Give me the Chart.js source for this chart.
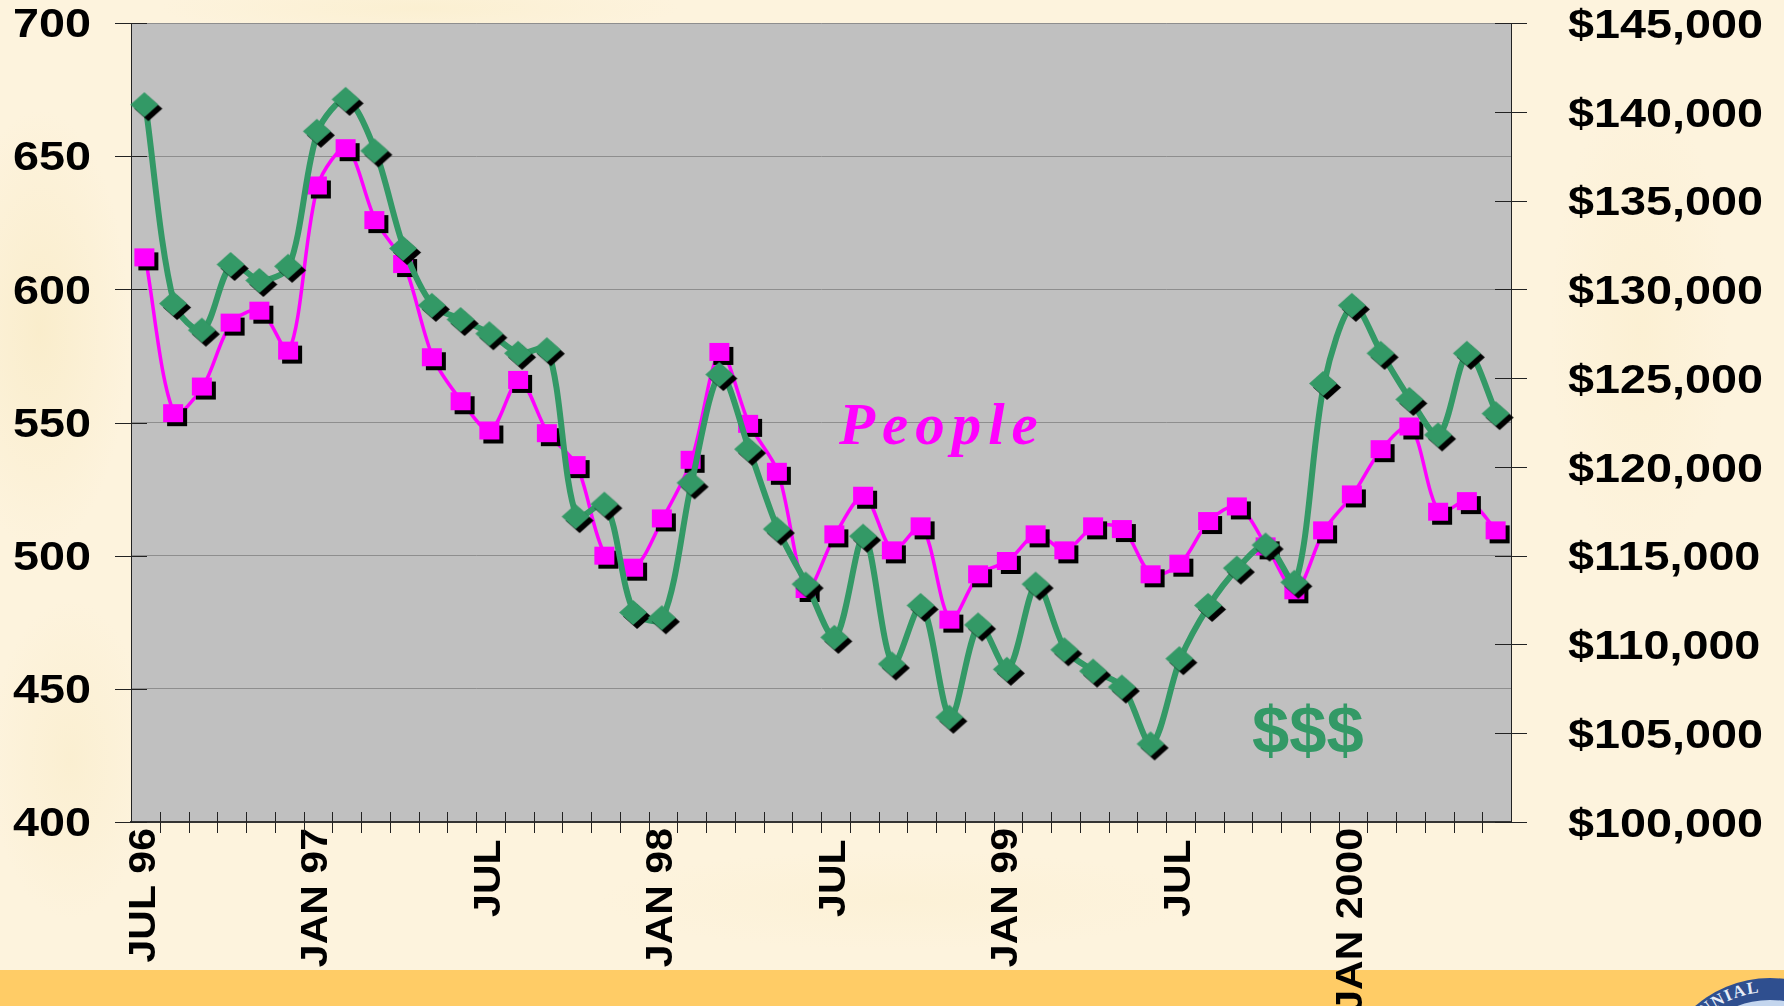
<!DOCTYPE html>
<html>
<head>
<meta charset="utf-8">
<script src="https://cdn.jsdelivr.net/npm/chart.js@4"></script>
<style>
html,body{margin:0;padding:0;width:1784px;height:1006px;overflow:hidden}
#bg{position:absolute;left:0;top:0;width:1784px;height:1006px;background:
radial-gradient(ellipse 90px 220px at 40px 330px,rgba(247,232,190,.55),rgba(247,232,190,0)),
radial-gradient(ellipse 80px 160px at 70px 760px,rgba(248,234,195,.45),rgba(248,234,195,0)),
radial-gradient(ellipse 260px 30px at 420px 8px,rgba(249,236,198,.5),rgba(249,236,198,0)),
radial-gradient(ellipse 90px 240px at 1640px 330px,rgba(250,236,200,.45),rgba(250,236,200,0)),
radial-gradient(ellipse 300px 50px at 900px 900px,rgba(250,238,205,.4),rgba(250,238,205,0)),
#FDF3DD}
#band{position:absolute;left:0;top:970px;width:1784px;height:36px;background:#FFCC66}
#seal{position:absolute;left:0;top:0}
canvas{position:absolute;left:0;top:0}
.note{position:absolute;white-space:nowrap;line-height:1}
#people{left:839px;top:390px;font:italic bold 59px "Liberation Serif",serif;letter-spacing:7px;color:#FF00FF}
#dollars{left:1252px;top:691px;font:bold 67px "Liberation Sans",sans-serif;color:#339966}
</style>
</head>
<body>
<div id="bg"></div>
<div id="band"></div>
<svg id="seal" width="1784" height="1006">
  <defs><path id="ringPath" d="M 1670 1092 A 100 100 0 0 1 1870 1092"/></defs>
  <circle cx="1770" cy="1092" r="114" fill="#2F4F8F"/>
  <circle cx="1770" cy="1092" r="92" fill="#C4D6EE"/>
  <text font-family="Liberation Serif" font-weight="bold" font-size="17" fill="#E8EEF8" letter-spacing="1.5"><textPath href="#ringPath" startOffset="6%">CENTENNIAL</textPath></text>
</svg>
<canvas id="c" width="1784" height="1006"></canvas>
<div class="note" id="people">People</div>
<div class="note" id="dollars">$$$</div>
<script>
const categories = ["JUL 96","","","","","","JAN 97","","","","","","JUL ","","","","","","JAN 98","","","","","","JUL ","","","","","","JAN 99","","","","","","JUL ","","","","","","JAN 2000","","","","",""];
const peopleValues = [612,553.5,563.5,587.5,592,577,639,653,626,609.5,574.5,558,547,566,546,534,500,495.5,514,536,576.5,549.5,531.5,487.5,508,522.5,502,511,476,493,498,508,502,511,510,493,497,513,518.5,503.5,487,509.5,523,540,548.5,516.5,520.5,509.5];
const dollarValues = [140400,129200,127700,131400,130500,131300,138900,140700,137800,132300,129100,128300,127500,126400,126600,117200,117900,111800,111500,119100,125200,121000,116500,113400,110400,116100,108900,112200,105900,111100,108600,113400,109700,108500,107600,104400,109200,112200,114300,115600,113500,124700,129100,126400,123800,121800,126400,123000];
const seriesNames = ["People","$$$"];
const plotTop = 23;

function marker(w,h,color,drawShape){
  const m=document.createElement('canvas');
  const pad=6; m.width=w+2*pad+8; m.height=h+2*pad+8;
  const g=m.getContext('2d');
  const cx=m.width/2-1, cy=m.height/2;
  g.fillStyle='#000'; drawShape(g,cx+4,cy+4,w,h);
  g.fillStyle=color; drawShape(g,cx,cy,w,h);
  return m;
}
const sq=(g,x,y,w,h)=>g.fillRect(x-w/2,y-h/2,w,h);
const dia=(g,x,y,w,h)=>{g.beginPath();g.moveTo(x,y-h/2);g.lineTo(x+w/2,y);g.lineTo(x,y+h/2);g.lineTo(x-w/2,y);g.closePath();g.fill();};

/* Keep the plot's top edge where the reference has it. */
const pinTop={id:'pinTop',afterLayout(chart){
  const a=chart.chartArea, b=a.bottom;
  a.top=plotTop; a.height=b-plotTop;
  [chart.scales.y,chart.scales.y2].forEach(s=>{s.top=plotTop;s.height=b-plotTop;s.configure();});
}};
/* Reference lettering is wider than the font: stretch each string along its own baseline. */
const widenText={id:'widenText',beforeDraw(chart){
  const ctx=chart.ctx;
  if(ctx.__w) return; ctx.__w=1;
  const orig=ctx.fillText.bind(ctx);
  ctx.fillText=function(t,x,y,mw){ctx.save();ctx.translate(x,y);ctx.scale(1.14,1);orig(t,0,0);ctx.restore();};
}};
/* Tick marks cross the axes on both sides. */
const crossTicks={id:'crossTicks',afterDatasetsDraw(chart){
  const {ctx,chartArea:a,scales:s}=chart;
  ctx.save();ctx.lineWidth=1;
  ctx.strokeStyle='#222';
  const n=categories.length,step=(a.right-a.left)/n;
  for(let i=1;i<n;i++){
    const x=Math.round(s.x.getPixelForValue(i)-step/2)+.5;
    ctx.beginPath();ctx.moveTo(x,a.bottom-10);ctx.lineTo(x,a.bottom+11);ctx.stroke();
  }
  [[s.y,a.left],[s.y2,a.right]].forEach(([sc,x0])=>sc.ticks.forEach(t=>{
    const y=Math.round(sc.getPixelForValue(t.value))+.5;
    ctx.beginPath();ctx.moveTo(x0-16,y);ctx.lineTo(x0+16,y);ctx.stroke();
  }));
  ctx.restore();
}};
const plotFill={id:'plotFill',beforeDraw(chart){
  const {ctx,chartArea:a}=chart;
  ctx.save();ctx.fillStyle='#C0C0C0';ctx.fillRect(a.left,a.top,a.right-a.left,a.bottom-a.top);ctx.restore();
}};

const tickFont={family:'"Liberation Sans",Arial,sans-serif',weight:'bold',size:41};
new Chart(document.getElementById('c'),{
  type:'line',
  data:{labels:categories,datasets:[
    {label:seriesNames[0],data:peopleValues,yAxisID:'y',order:2,borderColor:'#FF00FF',borderWidth:3.5,tension:.3,
     pointStyle:marker(20,18,'#FF00FF',sq),pointRadius:12},
    {label:seriesNames[1],data:dollarValues,yAxisID:'y2',order:1,borderColor:'#339966',borderWidth:6,tension:.3,
     pointStyle:marker(28,25,'#339966',dia),pointRadius:12}
  ]},
  options:{
    responsive:false,animation:false,
    layout:{autoPadding:false,padding:0},
    plugins:{legend:{display:false},title:{display:false},tooltip:{enabled:false}},
    scales:{
      x:{type:'category',offset:true,
        grid:{display:false},
        border:{display:true,color:'#333',width:2},
        afterFit(s){s.height=184;},
        ticks:{autoSkip:false,minRotation:90,maxRotation:90,padding:-2,labelOffset:-.5,color:'#000',font:{...tickFont,size:36},
          callback(v,i){return categories[i];}}},
      y:{position:'left',min:400,max:700,
        border:{display:true,color:'#222',width:1},
        grid:{color:'#8E8E8E',lineWidth:1,drawTicks:false,drawOnChartArea:true},
        afterFit(s){s.width=131;},
        ticks:{stepSize:50,padding:40,labelOffset:3,color:'#000',font:tickFont}},
      y2:{position:'right',min:100000,max:145000,
        border:{display:true,color:'#222',width:1},
        grid:{display:false,drawOnChartArea:false},
        afterFit(s){s.width=273;},
        ticks:{stepSize:5000,padding:49,labelOffset:3.5,color:'#000',font:tickFont,
          callback(v){return '$'+v.toLocaleString('en-US');}}}
    }
  },
  plugins:[pinTop,widenText,plotFill,crossTicks]
});
</script>
</body>
</html>
